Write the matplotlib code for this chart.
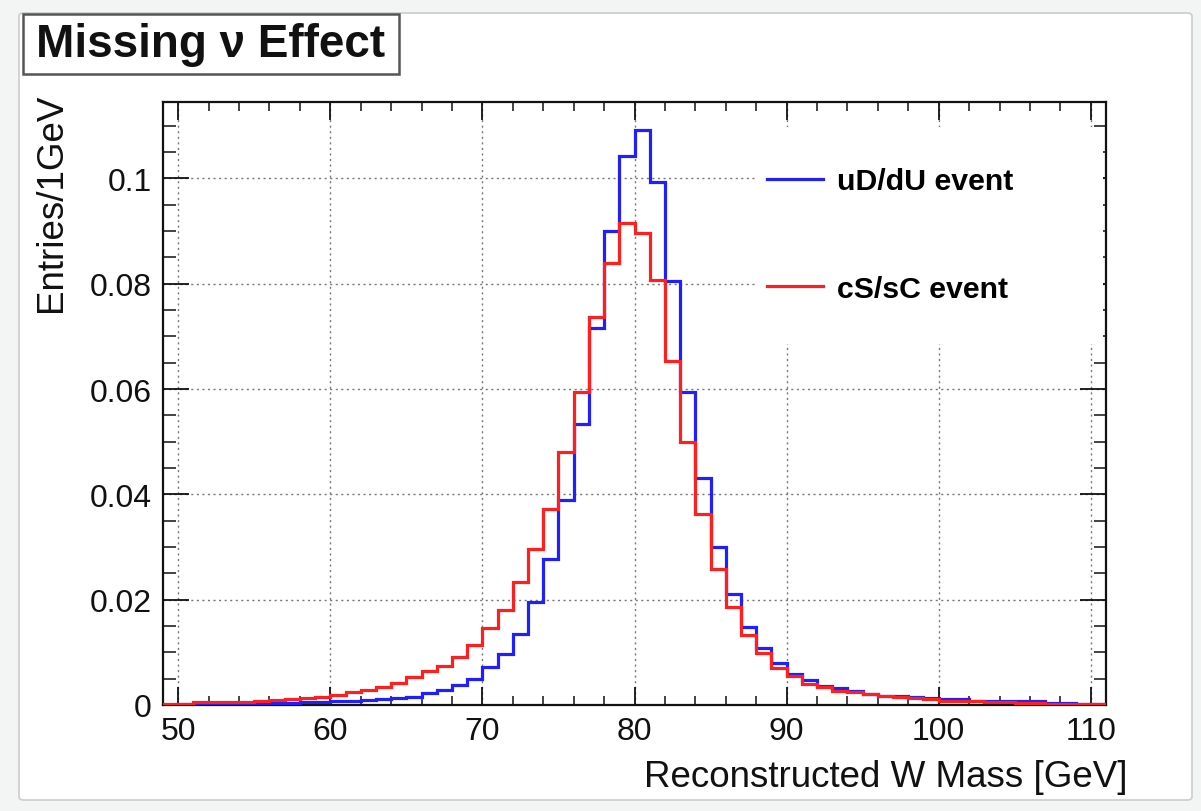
import numpy as np
import matplotlib
matplotlib.use("Agg")
import matplotlib.pyplot as plt
from matplotlib.patches import Rectangle, FancyBboxPatch
from matplotlib.ticker import MultipleLocator

plt.rcParams['font.family'] = ['Liberation Sans', 'DejaVu Sans']

# 1 GeV bins of reconstructed W mass, 49..111 GeV
bin_edges = np.arange(49, 112)

# normalised entries per bin
ud_du = [0.0000, 0.0001, 0.0001, 0.0002, 0.0002, 0.0002, 0.0003, 0.0004, 0.0004, 0.0005,
         0.0006, 0.0007, 0.0008, 0.0010, 0.0011, 0.0013, 0.0016, 0.0022, 0.0029, 0.0038,
         0.0049, 0.0072, 0.0097, 0.0135, 0.0196, 0.0277, 0.0390, 0.0534, 0.0715, 0.0900,
         0.1042, 0.1091, 0.0993, 0.0806, 0.0595, 0.0431, 0.0300, 0.0211, 0.0149, 0.0108,
         0.0079, 0.0059, 0.0048, 0.0037, 0.0032, 0.0027, 0.0021, 0.0018, 0.0017, 0.0015,
         0.0014, 0.0012, 0.0012, 0.0008, 0.0007, 0.0007, 0.0007, 0.0007, 0.0003, 0.0003,
         0.0002, 0.0002]
cs_sc = [0.0002, 0.0002, 0.0005, 0.0005, 0.0006, 0.0006, 0.0008, 0.0009, 0.0012, 0.0013,
         0.0015, 0.0019, 0.0024, 0.0029, 0.0034, 0.0041, 0.0054, 0.0064, 0.0075, 0.0092,
         0.0114, 0.0147, 0.0181, 0.0233, 0.0297, 0.0373, 0.0480, 0.0595, 0.0736, 0.0840,
         0.0915, 0.0896, 0.0807, 0.0654, 0.0500, 0.0363, 0.0258, 0.0187, 0.0133, 0.0098,
         0.0070, 0.0056, 0.0040, 0.0034, 0.0026, 0.0024, 0.0021, 0.0018, 0.0016, 0.0013,
         0.0011, 0.0008, 0.0008, 0.0007, 0.0006, 0.0005, 0.0003, 0.0003, 0.0002, 0.0002,
         0.0002, 0.0002]

series_labels = ["uD/dU event", "cS/sC event"]
series_colors = ["#1f1fff", "#ff1f1f"]

W, H = 1201, 812
fig = plt.figure(figsize=(W / 100, H / 100), dpi=100)
fig.patch.set_facecolor("#f3f4f4")

# slide card
card = FancyBboxPatch((19 / W, 1 - 801 / H), (1192 - 19) / W, (801 - 14) / H,
                      boxstyle="round,pad=0,rounding_size=0.004",
                      transform=fig.transFigure, facecolor="white",
                      edgecolor="#c9cdcd", linewidth=1.2, zorder=-10)
fig.patches.append(card)

# title box
tb = Rectangle((23 / W, 1 - 75 / H), (399 - 23) / W, (75 - 15) / H,
               transform=fig.transFigure, facecolor="white",
               edgecolor="#555555", linewidth=1.8, zorder=1)
fig.patches.append(tb)
fig.text(211 / W, 1 - 45 / H, "Missing ν Effect", ha="center", va="center",
         fontsize=33, fontweight="bold", color="#111111", zorder=2)

left, right, top, bottom = 163, 1106, 103, 706
ax = fig.add_axes([left / W, 1 - bottom / H, (right - left) / W, (bottom - top) / H])
ax.set_zorder(1)
ax.set_xlim(49, 111)
ax.set_ylim(0, 0.1145)

ax.set_axisbelow(True)
ax.grid(True, which="major", color="#777777", linewidth=1.0, linestyle=(0, (1.5, 2.5)))

# white legend area hides the grid behind it
ax.add_patch(Rectangle((0.630, 0.599), 0.367, 0.360, transform=ax.transAxes,
                       facecolor="white", edgecolor="none", zorder=1))

for vals, lab, col in zip([ud_du, cs_sc], series_labels, series_colors):
    ax.stairs(vals, bin_edges, color=col, linewidth=2.3, label=lab, zorder=3)

ax.xaxis.set_major_locator(MultipleLocator(10))
ax.xaxis.set_minor_locator(MultipleLocator(2))
ax.yaxis.set_major_locator(MultipleLocator(0.02))
ax.yaxis.set_minor_locator(MultipleLocator(0.005))
ax.set_yticks([0, 0.02, 0.04, 0.06, 0.08, 0.1])
ax.set_yticklabels(["0", "0.02", "0.04", "0.06", "0.08", "0.1"])

ax.tick_params(axis="both", which="both", direction="in", top=True, right=True,
               colors="#111111", labelsize=23)
ax.tick_params(axis="x", which="major", length=13, width=1.3, pad=8)
ax.tick_params(axis="x", which="minor", length=6.5, width=1.1)
ax.tick_params(axis="y", which="major", length=18.5, width=1.3, pad=8)
ax.tick_params(axis="y", which="minor", length=9, width=1.1)
for sp in ax.spines.values():
    sp.set_linewidth(1.6)
    sp.set_color("#111111")

ax.set_xlabel("Reconstructed W Mass [GeV]", fontsize=26.5, loc="right", color="#111111")
ax.xaxis.set_label_coords((1128 - left) / (right - left), -(760 - bottom) / (bottom - top))
fig.text(52 / W, 1 - 94 / H, "Entries/1GeV", rotation=90, ha="center", va="top",
         fontsize=26.5, color="#111111")

leg = ax.legend(loc="center left", bbox_to_anchor=(0.6405, 0.7794), frameon=False,
                prop={"weight": "bold", "size": 21.8}, handlelength=1.85,
                handletextpad=0.46, labelspacing=2.62, borderpad=0, borderaxespad=0)
for h in leg.get_lines():
    h.set_linewidth(2.3)

fig.savefig("out.png", dpi=100, facecolor=fig.get_facecolor())
